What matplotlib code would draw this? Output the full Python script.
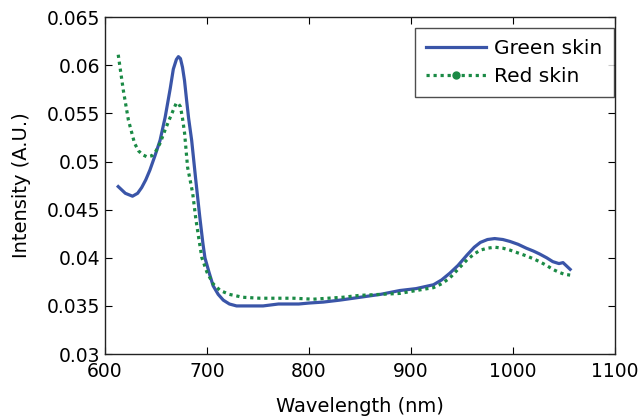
import matplotlib.pyplot as plt
from matplotlib.lines import Line2D

# Green skin spectrum
wl_green = [613, 620, 627, 632, 636, 640, 644, 649, 654, 659, 664, 667, 670, 672,
            674, 676, 678, 680, 682, 685, 689, 693, 696, 698, 702, 706, 711, 716,
            722, 729, 740, 755, 770, 790, 800, 814, 830, 850, 870, 889, 905, 922,
            930, 938, 946, 955, 962, 968, 975, 982, 990, 997, 1005, 1013, 1020,
            1026, 1033, 1039, 1045, 1049, 1053, 1056]
int_green = [0.0474, 0.0467, 0.0464, 0.0467, 0.0473, 0.0481, 0.0491, 0.0506, 0.0522,
             0.0546, 0.0576, 0.0596, 0.0606, 0.0609, 0.0607, 0.0598, 0.0584, 0.0564,
             0.0545, 0.0522, 0.0481, 0.0442, 0.0415, 0.0400, 0.0385, 0.0371, 0.0362,
             0.0356, 0.0352, 0.0350, 0.0350, 0.0350, 0.0352, 0.0352, 0.0353, 0.0354,
             0.0356, 0.0359, 0.0362, 0.0366, 0.0368, 0.0372, 0.0377, 0.0384, 0.0392,
             0.0403, 0.0411, 0.0416, 0.0419, 0.0420, 0.0419, 0.0417, 0.0414, 0.0410,
             0.0407, 0.0404, 0.0400, 0.0396, 0.0394, 0.0395, 0.0391, 0.0388]

# Red skin spectrum
wl_red = [613, 618, 623, 629, 633, 637, 641, 646, 650, 654, 659, 664, 668, 670,
          672, 674, 676, 678, 681, 684, 686, 689, 692, 695, 700, 706, 713, 722,
          735, 752, 785, 804, 833, 850, 870, 889, 905, 922, 930, 938, 946, 955,
          962, 968, 975, 982, 990, 997, 1005, 1013, 1020, 1026, 1033, 1039, 1045,
          1050, 1056]
int_red = [0.0611, 0.0574, 0.0543, 0.0519, 0.0511, 0.0507, 0.0505, 0.0506, 0.0511,
           0.0519, 0.0533, 0.0546, 0.0556, 0.0561, 0.0560, 0.0557, 0.0545, 0.0530,
           0.0494, 0.0478, 0.0467, 0.0441, 0.0420, 0.0400, 0.0385, 0.0373, 0.0366,
           0.0362, 0.0359, 0.0358, 0.0358, 0.0357, 0.0359, 0.0361, 0.0362, 0.0363,
           0.0366, 0.0369, 0.0373, 0.0379, 0.0388, 0.0398, 0.0404, 0.0408, 0.0410,
           0.0411, 0.0410, 0.0408, 0.0405, 0.0402, 0.0399, 0.0396, 0.0392, 0.0388,
           0.0385, 0.0383, 0.0382]

xticks = [600, 700, 800, 900, 1000, 1100]
yticks = [0.03, 0.035, 0.04, 0.045, 0.05, 0.055, 0.06, 0.065]
ytick_labels = ['0.03', '0.035', '0.04', '0.045', '0.05', '0.055', '0.06', '0.065']

blue = '#3a55a8'
green = '#1a8a45'
dots = (0, (1, 1.2))

plt.rcParams['font.family'] = ['DejaVu Sans']
fig = plt.figure(figsize=(6.4, 4.19), dpi=100)
ax = fig.add_axes([0.164, 0.155, 0.797, 0.804])

ax.plot(wl_green, int_green, color=blue, lw=2.3)
ax.plot(wl_red, int_red, color=green, lw=2.3, ls=dots)

ax.set_xlim(600, 1100)
ax.set_ylim(0.03, 0.065)
ax.set_xticks(xticks)
ax.set_yticks(yticks)
ax.set_yticklabels(ytick_labels)
ax.tick_params(direction='in', top=True, right=True, labelsize=13.5, length=5, width=0.8)
ax.tick_params(axis='x', pad=6)
for s in ax.spines.values():
    s.set_linewidth(1.0)
    s.set_color('#222222')

ax.set_xlabel('Wavelength (nm)', fontsize=14, labelpad=11)
ax.set_ylabel('Intensity (A.U.)', fontsize=14, labelpad=11)

h_green = Line2D([], [], color=blue, lw=2.3)
h_red_line = Line2D([], [], color=green, lw=2.3, ls=dots)
h_red_dot = Line2D([], [], color=green, ls='none', marker='o', markersize=5)
leg = ax.legend([h_green, (h_red_line, h_red_dot)], ['Green skin', 'Red skin'],
                loc='upper right', bbox_to_anchor=(0.997, 0.968),
                fontsize=14.5, fancybox=False, edgecolor='#222222',
                borderaxespad=0, handlelength=3.0, handletextpad=0.4,
                borderpad=0.55, labelspacing=0.45, numpoints=1)
leg.get_frame().set_linewidth(1.0)

fig.savefig('out.png', dpi=100)
